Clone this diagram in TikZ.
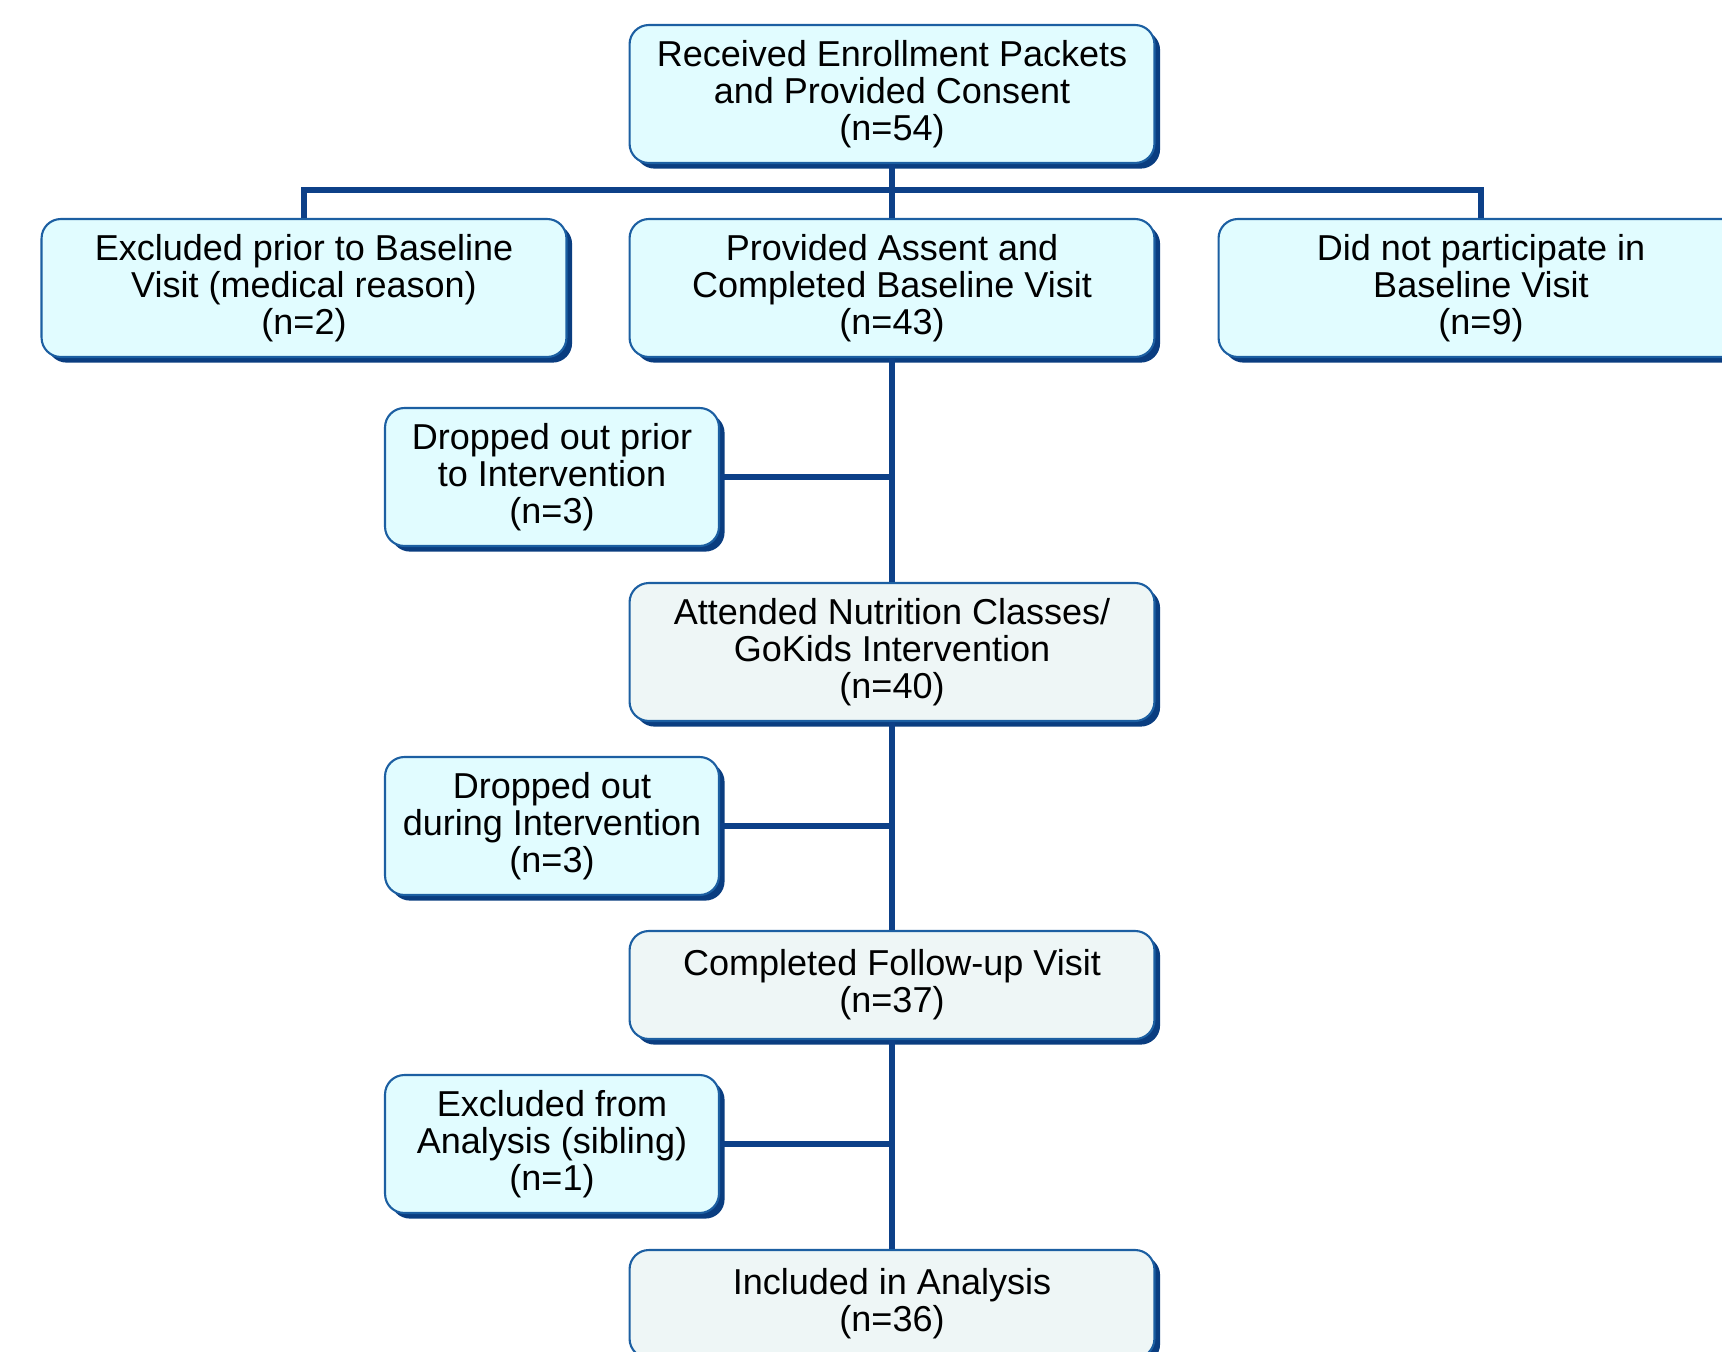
\documentclass[tikz,border=0pt]{standalone}
\usepackage{fontspec}
\setmainfont{Liberation Sans}
\usetikzlibrary{shadows}
\definecolor{BoxClr}{HTML}{E1FCFF}
\definecolor{MainClr}{HTML}{EEF6F6}
\definecolor{EdgeClr}{HTML}{1C5FA2}
\definecolor{ShadeClr}{HTML}{0A3D80}
\definecolor{LineClr}{HTML}{0D4088}

\begin{document}
\begin{tikzpicture}[x=0.02cm,y=-0.02cm,
  box/.style={draw=EdgeClr,line width=1.2pt,fill=BoxClr,rounded corners=11pt,
    align=center,inner sep=0pt,font=\fontsize{20.5}{21}\selectfont,
    general shadow={fill=ShadeClr,shadow xshift=3.2pt,shadow yshift=-3.2pt}},
  wide/.style={box,minimum width=10.5cm,minimum height=2.76cm},
  side/.style={box,minimum width=6.68cm,minimum height=2.76cm},
  mainbox/.style={fill=MainClr},
  link/.style={draw=LineClr,line width=3pt}]
\useasboundingbox (0,0) rectangle (1722,1352);

\node[wide] (enrol) at (892,94) {Received Enrollment Packets\\and Provided Consent\\(n=54)};
\node[wide] (excl) at (304,288) {Excluded prior to Baseline\\Visit (medical reason)\\(n=2)};
\node[wide] (base) at (892,288) {Provided Assent and\\Completed Baseline Visit\\(n=43)};
\node[wide] (nopart) at (1481,288) {Did not participate in\\Baseline Visit\\(n=9)};
\node[side] (drop1) at (552,477) {Dropped out prior\\to Intervention\\(n=3)};
\node[wide,mainbox] (attend) at (892,652) {Attended Nutrition Classes/\\GoKids Intervention\\(n=40)};
\node[side] (drop2) at (552,826) {Dropped out\\during Intervention\\(n=3)};
\node[wide,mainbox,minimum height=2.16cm] (follow) at (892,985) {Completed Follow-up Visit\\(n=37)};
\node[side] (exan) at (552,1144) {Excluded from\\Analysis (sibling)\\(n=1)};
\node[wide,mainbox,minimum height=2.16cm] (incl) at (892,1304) {Included in Analysis\\(n=36)};

\coordinate (bus) at (892,190);
\draw[link] (excl.north) |- (bus) -| (nopart.north);
\draw[link] (enrol) -- (base) -- (attend) -- (follow) -- (incl);
\draw[link] (drop1) -- (drop1 -| base.south);
\draw[link] (drop2) -- (drop2 -| base.south);
\draw[link] (exan) -- (exan -| base.south);

\end{tikzpicture}
\end{document}
